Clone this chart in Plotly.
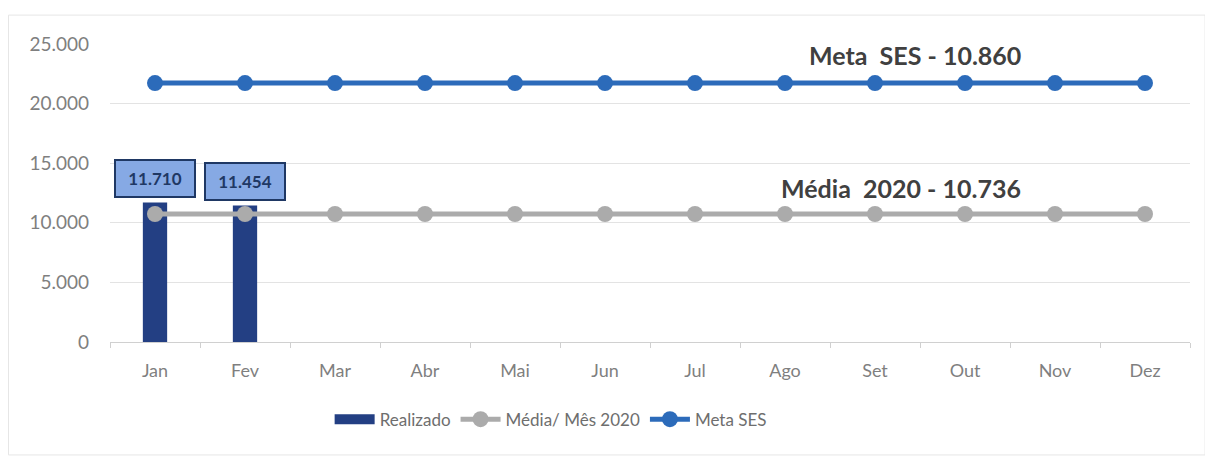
import plotly.graph_objects as go

months = ["Jan", "Fev", "Mar", "Abr", "Mai", "Jun", "Jul", "Ago", "Set", "Out", "Nov", "Dez"]
realizado_months = ["Jan", "Fev"]
realizado = [11710, 11454]
realizado_labels = ["11.710", "11.454"]
media_2020 = [10736] * 12
meta_ses = [21720] * 12
y_ticks = [0, 5000, 10000, 15000, 20000, 25000]
y_tick_labels = ["0", "5.000", "10.000", "15.000", "20.000", "25.000"]

FONT = "Lato, 'Open Sans', sans-serif"
NAVY = "#233F83"
BLUE = "#2C6BBA"
GREY = "#ABABAB"
TICK = "#7F7F7F"
NB = "\u00a0"

fig = go.Figure()
fig.add_trace(go.Bar(
    x=realizado_months, y=realizado, name="Realizado", showlegend=False,
    marker=dict(color=NAVY, line=dict(width=0)), width=0.27,
))
# legend swatch for the bars (wide rectangle like the original)
fig.add_trace(go.Scatter(
    x=[None], y=[None], name="Realizado", mode="lines",
    line=dict(color=NAVY, width=10),
))
fig.add_trace(go.Scatter(
    x=months, y=media_2020, name="Média/ Mês 2020", mode="lines+markers",
    line=dict(color=GREY, width=5), marker=dict(size=16, color=GREY),
))
fig.add_trace(go.Scatter(
    x=months, y=meta_ses, name="Meta SES", mode="lines+markers",
    line=dict(color=BLUE, width=5), marker=dict(size=16, color=BLUE),
))

for m, v, t in zip(realizado_months, realizado, realizado_labels):
    fig.add_annotation(
        x=m, y=v, text="<b>" + t + "</b>", showarrow=False,
        yanchor="bottom", yshift=4, width=74, height=31,
        bgcolor="#86A9E4", bordercolor="#1F3864", borderwidth=2, borderpad=2,
        font=dict(family=FONT, size=17, color="#1F3864"),
    )

fig.add_annotation(x="Ago", y=meta_ses[7], text="<b>Meta" + NB + NB + "SES - 10.860</b>",
                   showarrow=False, xanchor="center", yanchor="bottom", xshift=130, yshift=11,
                   font=dict(family=FONT, size=25, color="#404040"))
fig.add_annotation(x="Ago", y=media_2020[7], text="<b>Média" + NB + NB + "2020 - 10.736</b>",
                   showarrow=False, xanchor="center", yanchor="bottom", xshift=116, yshift=9,
                   font=dict(family=FONT, size=25, color="#404040"))

fig.update_layout(
    width=1213, height=458,
    margin=dict(l=102, r=31, t=36, b=124, autoexpand=False),
    paper_bgcolor="white", plot_bgcolor="white",
    font=dict(family=FONT, size=18, color=TICK),
    showlegend=True,
    legend=dict(orientation="h", x=0.408, xanchor="center", y=-0.2, yanchor="top",
                font=dict(family=FONT, size=17, color="#6E6E6E"),
                itemwidth=40, traceorder="normal"),
    bargap=0.73,
)
fig.update_xaxes(
    type="category", categoryorder="array", categoryarray=months, automargin=False,
    range=[-0.5, len(months) - 0.5],
    showgrid=False, showline=True, linecolor="#D0D0D0", linewidth=1,
    ticks="outside", tickson="boundaries", ticklen=5, tickcolor="#D0D0D0",
    tickfont=dict(family=FONT, size=18, color=TICK), ticklabelstandoff=12,
)
fig.update_yaxes(
    range=[0, 25000], tickvals=y_ticks, ticktext=y_tick_labels, automargin=False,
    showgrid=True, gridcolor="#E3E3E3", gridwidth=1, zeroline=False,
    tickfont=dict(family=FONT, size=19, color=TICK), ticks="", ticklabelstandoff=20,
)
fig.add_shape(type="rect", xref="paper", yref="paper", x0=-0.094, x1=1.014, y0=-0.379, y1=1.097,
              line=dict(color="#E6E6E6", width=1))

fig.write_html("out.html")
